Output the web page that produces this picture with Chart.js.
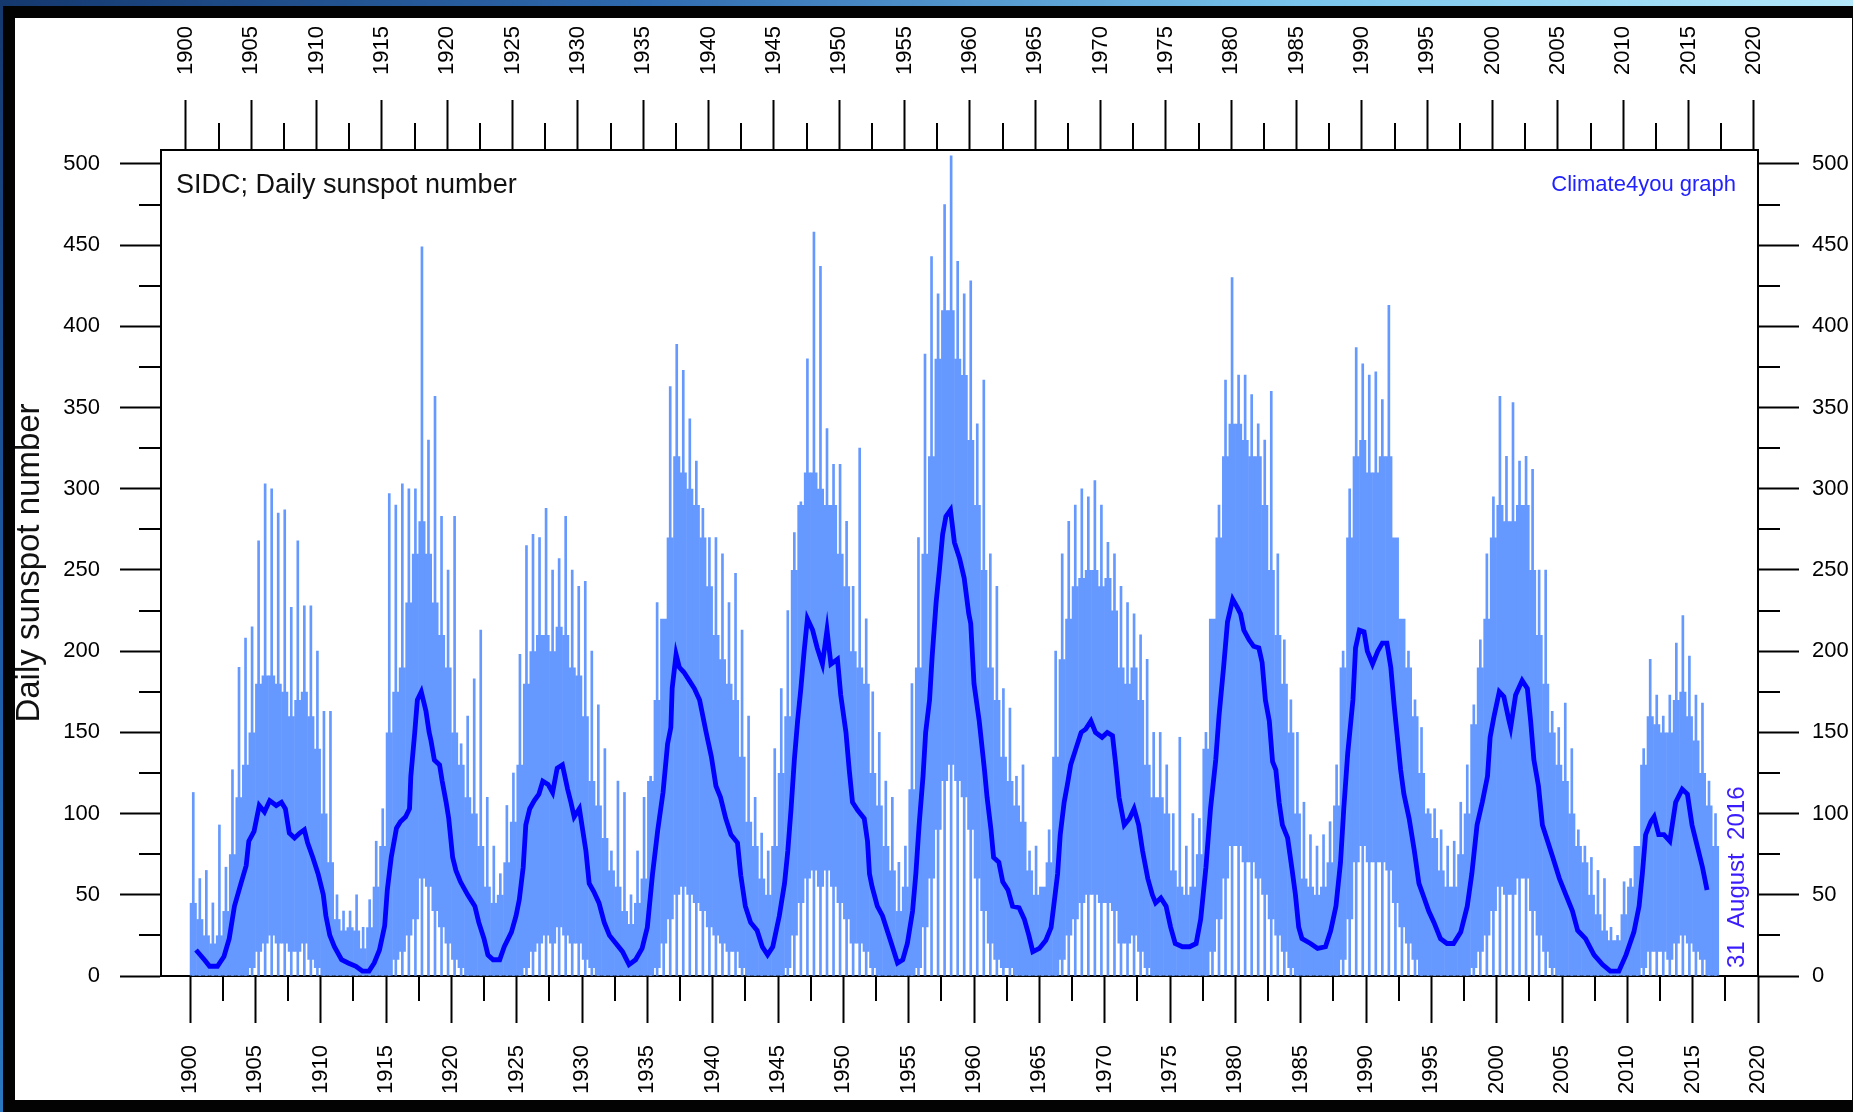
<!DOCTYPE html>
<html>
<head>
<meta charset="utf-8">
<title>SIDC; Daily sunspot number</title>
<script src="https://cdn.jsdelivr.net/npm/chart.js@4.4.1/dist/chart.umd.min.js"></script>
<style>
    html, body { margin: 0; padding: 0; width: 1853px; height: 1112px; overflow: hidden; background: #030303; }
    #topStrip { position: absolute; left: 0; top: 0; width: 1853px; height: 6px;
        background: linear-gradient(90deg, #14386e 0%, #2f6bb0 35%, #78c4ec 70%, #b4e8fa 100%); }
    #leftStrip { position: absolute; left: 0; top: 0; width: 3px; height: 1112px;
        background: linear-gradient(180deg, #14386e, #1d5da8 60%, #2a78c0); }
    #panel { position: absolute; left: 15px; top: 18px; width: 1837px; height: 1082px; background: #fff; }
    canvas { display: block; }
</style>
</head>
<body>
<div id="topStrip"></div>
<div id="leftStrip"></div>
<div id="panel"><canvas id="chart" width="1837" height="1082"></canvas></div>
<script>
// Texts
const chartTitle = 'SIDC; Daily sunspot number';
const yAxisTitle = 'Daily sunspot number';
const creditText = 'Climate4you graph';
const dateText = '31  August  2016';

// Daily values, read per half-year bin (1900.0-1900.5, 1900.5-1901.0, ... 2016.5-2017.0)
const firstBinCentre = 1900.25;
const binWidth = 0.5;

// lower edge of the dense daily band
const dailyLow = [
    0, 0, 0, 0, 0, 0, 0, 0, 0, 5,              // 1900-1904
    15, 20, 25, 20, 20, 15, 15, 20, 10, 5,     // 1905-1909
    0, 0, 0, 0, 0, 0, 0, 0, 0, 0,              // 1910-1914
    0, 10, 15, 25, 35, 60, 55, 40, 30, 20,     // 1915-1919
    10, 5, 0, 0, 0, 0, 0, 0, 0, 0,             // 1920-1924
    0, 5, 15, 20, 25, 20, 30, 25, 20, 20,      // 1925-1929
    10, 5, 0, 0, 0, 0, 0, 0, 0, 0,             // 1930-1934
    0, 5, 20, 35, 50, 55, 50, 45, 40, 30,      // 1935-1939
    25, 20, 15, 15, 5, 0, 0, 0, 0, 0,          // 1940-1944
    0, 5, 25, 45, 60, 65, 55, 65, 55, 45,      // 1945-1949
    35, 20, 20, 15, 5, 0, 0, 0, 0, 0,          // 1950-1954
    0, 5, 30, 60, 90, 120, 130, 120, 110, 90,  // 1955-1959
    60, 40, 20, 10, 5, 5, 0, 0, 0, 0,          // 1960-1964
    0, 0, 0, 10, 25, 35, 45, 50, 50, 45,       // 1965-1969
    45, 40, 20, 20, 25, 15, 5, 0, 0, 0,        // 1970-1974
    0, 0, 0, 0, 0, 0, 15, 35, 60, 80,          // 1975-1979
    80, 70, 70, 60, 50, 35, 25, 15, 5, 0,      // 1980-1984
    0, 0, 0, 0, 0, 0, 10, 35, 70, 80,          // 1985-1989
    70, 70, 70, 65, 45, 30, 20, 10, 0, 0,      // 1990-1994
    0, 0, 0, 0, 0, 0, 5, 15, 25, 40,           // 1995-1999
    55, 50, 50, 60, 60, 40, 25, 15, 5, 0,      // 2000-2004
    0, 0, 0, 0, 0, 0, 0, 0, 0, 0,              // 2005-2009
    0, 0, 5, 15, 15, 15, 10, 20, 25, 20,       // 2010-2014
    15, 10, 0, 0                               // 2015-2016
];

// upper edge of the dense daily band
const dailyHigh = [
    45, 35, 25, 20, 25, 40, 75, 110, 130, 150,         // 1900-1904
    180, 185, 185, 180, 175, 160, 170, 175, 160, 140,  // 1905-1909
    100, 70, 35, 28, 30, 28, 17, 30, 55, 80,           // 1910-1914
    150, 175, 190, 230, 260, 280, 260, 230, 210, 190,  // 1915-1919
    150, 130, 110, 100, 80, 55, 45, 50, 70, 95,        // 1920-1924
    130, 180, 200, 210, 210, 200, 215, 210, 190, 185,  // 1925-1929
    160, 120, 105, 85, 65, 55, 40, 32, 45, 60,         // 1930-1934
    120, 170, 220, 270, 320, 310, 300, 290, 270, 240,  // 1935-1939
    210, 195, 180, 170, 135, 95, 80, 60, 50, 80,       // 1940-1944
    125, 160, 250, 290, 310, 310, 300, 290, 290, 260,  // 1945-1949
    240, 200, 190, 180, 125, 105, 80, 65, 40, 55,      // 1950-1954
    115, 190, 260, 320, 380, 410, 410, 380, 370, 330,  // 1955-1959
    290, 250, 190, 170, 135, 120, 105, 95, 65, 50,     // 1960-1964
    55, 70, 135, 195, 220, 240, 245, 250, 250, 240,    // 1965-1969
    245, 225, 190, 180, 190, 170, 130, 110, 110, 100,  // 1970-1974
    65, 55, 50, 55, 75, 140, 220, 270, 320, 340,       // 1975-1979
    340, 330, 320, 320, 290, 250, 210, 180, 150, 100,  // 1980-1984
    60, 55, 50, 55, 70, 105, 190, 270, 320, 330,       // 1985-1989
    310, 310, 320, 320, 270, 220, 190, 160, 125, 100,  // 1990-1994
    85, 65, 55, 55, 75, 100, 155, 190, 220, 270,       // 1995-1999
    290, 280, 280, 290, 290, 250, 210, 180, 150, 130,  // 2000-2004
    120, 100, 80, 70, 50, 38, 28, 22, 22, 38,          // 2005-2009
    55, 80, 130, 160, 155, 150, 150, 170, 175, 160,    // 2010-2014
    145, 125, 105, 80                                  // 2015-2016
];

// highest single day in each bin
const dailyPeak = [
    113, 60, 65, 45, 93, 67, 127, 190, 208, 215,       // 1900-1904
    268, 303, 300, 285, 287, 227, 268, 228, 228, 200,  // 1905-1909
    163, 163, 50, 40, 40, 50, 30, 47, 83, 103,         // 1910-1914
    297, 290, 303, 300, 300, 449, 330, 357, 283, 250,  // 1915-1919
    283, 143, 160, 183, 213, 110, 80, 63, 105, 125,    // 1920-1924
    198, 265, 272, 270, 288, 250, 257, 283, 250, 240,  // 1925-1929
    243, 200, 167, 140, 77, 120, 113, 50, 77, 110,     // 1930-1934
    123, 230, 187, 363, 389, 373, 343, 317, 288, 270,  // 1935-1939
    270, 260, 230, 248, 213, 160, 110, 88, 77, 140,    // 1940-1944
    177, 225, 273, 292, 380, 458, 437, 337, 315, 315,  // 1945-1949
    280, 240, 325, 220, 175, 150, 120, 110, 70, 80,    // 1950-1954
    180, 270, 383, 443, 420, 475, 505, 440, 420, 428,  // 1955-1959
    340, 367, 260, 240, 177, 165, 123, 130, 77, 80,    // 1960-1964
    53, 90, 200, 260, 280, 290, 300, 295, 305, 290,    // 1965-1969
    267, 260, 240, 230, 223, 210, 195, 150, 150, 130,  // 1970-1974
    100, 147, 80, 100, 97, 150, 203, 290, 367, 430,    // 1975-1979
    370, 370, 358, 340, 330, 360, 260, 207, 170, 150,  // 1980-1984
    107, 87, 80, 87, 95, 130, 200, 300, 387, 377,      // 1985-1989
    370, 372, 355, 413, 252, 208, 200, 170, 153, 103,  // 1990-1994
    103, 90, 80, 83, 107, 130, 167, 207, 260, 295,     // 1995-1999
    357, 320, 353, 317, 320, 312, 250, 250, 163, 153,  // 2000-2004
    168, 140, 90, 80, 73, 65, 60, 30, 25, 58,          // 2005-2009
    60, 70, 140, 195, 173, 160, 173, 205, 222, 197,    // 2010-2014
    173, 168, 120, 100                                 // 2015-2016
];

// Running mean (dark blue line)
const smoothYears = [
    1900.46, 1901.1, 1901.5, 1902.1, 1902.6, 1903.0, 1903.4, 1903.9, 1904.3, 1904.5,
    1904.9, 1905.3, 1905.7, 1906.1, 1906.6, 1907.0, 1907.3, 1907.6, 1908.0, 1908.4,
    1908.75, 1909.0, 1909.4, 1909.8, 1910.2, 1910.4, 1910.7, 1911.05, 1911.6, 1912.1,
    1912.7, 1913.2, 1913.7, 1914.1, 1914.5, 1914.9, 1915.1, 1915.4, 1915.8, 1916.1,
    1916.5, 1916.8, 1916.9, 1917.2, 1917.4, 1917.7, 1918.06, 1918.3, 1918.44, 1918.7,
    1919.1, 1919.3, 1919.6, 1919.8, 1920.1, 1920.35, 1920.7, 1921.25, 1921.8, 1922.1,
    1922.5, 1922.8, 1923.2, 1923.7, 1924.05, 1924.6, 1924.95, 1925.2, 1925.5, 1925.7,
    1926.0, 1926.35, 1926.7, 1927.0, 1927.4, 1927.75, 1928.1, 1928.5, 1928.9, 1929.15,
    1929.4, 1929.8, 1930.05, 1930.3, 1930.55, 1930.9, 1931.3, 1931.7, 1932.1, 1932.6,
    1933.1, 1933.6, 1934.1, 1934.6, 1935.0, 1935.4, 1935.8, 1936.2, 1936.55, 1936.8,
    1936.9, 1937.2, 1937.45, 1937.8, 1938.2, 1938.6, 1939.0, 1939.5, 1939.9, 1940.25,
    1940.6, 1941.0, 1941.4, 1941.9, 1942.15, 1942.5, 1942.9, 1943.4, 1943.8, 1944.2,
    1944.6, 1945.1, 1945.5, 1945.75, 1946.0, 1946.25, 1946.5, 1946.75, 1947.0, 1947.25,
    1947.65, 1948.0, 1948.4, 1948.75, 1949.05, 1949.55, 1949.8, 1950.2, 1950.45, 1950.7,
    1951.1, 1951.6, 1951.85, 1952.0, 1952.2, 1952.6, 1953.0, 1953.4, 1953.8, 1954.15,
    1954.55, 1954.9, 1955.3, 1955.55, 1955.8, 1956.1, 1956.3, 1956.6, 1956.8, 1957.1,
    1957.35, 1957.6, 1957.85, 1958.2, 1958.5, 1958.9, 1959.25, 1959.6, 1959.75, 1960.0,
    1960.4, 1960.8, 1961.0, 1961.3, 1961.5, 1961.9, 1962.2, 1962.6, 1962.95, 1963.45,
    1963.85, 1964.2, 1964.5, 1965.0, 1965.5, 1965.9, 1966.1, 1966.4, 1966.6, 1966.9,
    1967.15, 1967.4, 1967.8, 1968.2, 1968.55, 1968.95, 1969.3, 1969.8, 1970.2, 1970.6,
    1970.85, 1971.1, 1971.5, 1971.9, 1972.25, 1972.6, 1972.9, 1973.3, 1973.65, 1973.9,
    1974.3, 1974.7, 1975.05, 1975.4, 1975.95, 1976.5, 1977.0, 1977.35, 1977.75, 1978.1,
    1978.5, 1978.75, 1979.1, 1979.4, 1979.8, 1980.15, 1980.4, 1980.65, 1981.05, 1981.4,
    1981.8, 1982.05, 1982.3, 1982.6, 1982.85, 1983.1, 1983.35, 1983.6, 1984.0, 1984.35,
    1984.6, 1984.85, 1985.1, 1985.75, 1986.3, 1986.9, 1987.3, 1987.7, 1988.05, 1988.3,
    1988.6, 1989.0, 1989.2, 1989.5, 1989.85, 1990.1, 1990.5, 1990.9, 1991.25, 1991.6,
    1991.9, 1992.15, 1992.4, 1992.65, 1992.9, 1993.3, 1993.7, 1994.05, 1994.45, 1994.8,
    1995.2, 1995.7, 1996.2, 1996.7, 1997.25, 1997.75, 1998.1, 1998.5, 1998.9, 1999.3,
    1999.5, 1999.8, 2000.2, 2000.55, 2000.95, 2001.07, 2001.45, 2001.95, 2002.35, 2002.6,
    2002.85, 2003.2, 2003.5, 2003.9, 2004.3, 2004.8, 2005.3, 2005.8, 2006.2, 2006.8,
    2007.45, 2008.1, 2008.7, 2009.35, 2009.9, 2010.5, 2010.9, 2011.15, 2011.4, 2011.8,
    2012.05, 2012.4, 2012.8, 2013.25, 2013.7, 2014.2, 2014.6, 2014.95, 2015.35, 2015.75,
    2016.1
];
const smoothValues = [
    16, 10, 6, 6, 12, 23, 43, 57, 68, 83,
    89, 105, 101, 108, 105, 107, 103, 88, 85, 88,
    90, 82, 73, 63, 50, 37, 25, 18, 10, 8,
    6, 3, 3, 8, 16, 31, 53, 73, 91, 95,
    98, 103, 123, 150, 170, 175, 163, 150, 145, 133,
    130, 120, 107, 97, 73, 65, 58, 50, 43, 33,
    23, 13, 10, 10, 18, 27, 37, 47, 67, 93,
    103, 108, 112, 120, 118, 113, 128, 130, 115, 107,
    98, 103, 90, 77, 57, 52, 45, 33, 25, 20,
    15, 7, 10, 17, 30, 63, 90, 113, 143, 153,
    177, 198, 190, 187, 182, 177, 170, 150, 135, 117,
    110, 97, 87, 82, 62, 43, 33, 28, 18, 13,
    18, 37, 57, 77, 103, 133, 157, 177, 200, 220,
    213, 202, 192, 213, 192, 195, 173, 150, 127, 107,
    102, 97, 83, 63, 55, 43, 37, 27, 17, 8,
    10, 20, 40, 63, 93, 123, 150, 170, 197, 230,
    250, 272, 283, 287, 267, 257, 245, 223, 217, 180,
    157, 127, 110, 90, 73, 70, 58, 53, 43, 42,
    35, 25, 15, 17, 22, 30, 43, 63, 87, 107,
    118, 130, 140, 150, 152, 157, 150, 147, 150, 148,
    130, 110, 93, 97, 103, 93, 77, 60, 50, 45,
    48, 43, 30, 20, 18, 18, 20, 35, 67, 103,
    133, 160, 190, 218, 232, 227, 223, 213, 207, 203,
    202, 193, 170, 157, 132, 127, 107, 93, 85, 65,
    50, 30, 23, 20, 17, 18, 28, 43, 70, 103,
    137, 170, 202, 213, 212, 200, 192, 200, 205, 205,
    190, 167, 147, 127, 112, 97, 77, 57, 48, 40,
    33, 23, 20, 20, 27, 43, 63, 93, 107, 123,
    147, 160, 175, 172, 157, 153, 173, 182, 177, 157,
    133, 117, 93, 83, 73, 60, 50, 40, 28, 23,
    13, 7, 3, 3, 13, 27, 43, 63, 87, 95,
    98, 87, 87, 83, 107, 115, 112, 93, 80, 67,
    53
];

// Axis ranges
const yearMin = 1897.78;
const yearMax = 2020;
const topYearMin = 1898.09;
const topYearMax = 2020.31;
const valueMin = 0;
const valueMax = 508.6;

const FONT = "'Liberation Sans', Arial, Helvetica, sans-serif";
const lightBlue = '#6699ff';
const darkBlue = '#0000ff';

Chart.defaults.font.family = FONT;
Chart.defaults.color = '#000';

const binCentres = dailyLow.map((_, i) => firstBinCentre + i * binWidth);

// Minor tick marks (every 25 units / 2.5 years)
const minorTicks = {
    id: 'minorTicks',
    afterDraw(chart) {
        const ctx = chart.ctx;
        const a = chart.chartArea;
        const sy = chart.scales.y;
        const sx = chart.scales.x;
        const sx2 = chart.scales.x2;
        ctx.save();
        ctx.strokeStyle = '#000';
        ctx.lineWidth = 2;
        ctx.beginPath();
        for (let v = 25; v < valueMax; v += 50) {
            const p = Math.round(sy.getPixelForValue(v));
            ctx.moveTo(a.left - 22, p); ctx.lineTo(a.left, p);
            ctx.moveTo(a.right, p); ctx.lineTo(a.right + 22, p);
        }
        for (let yr = 1902.5; yr < yearMax; yr += 5) {
            const p = Math.round(sx.getPixelForValue(yr));
            ctx.moveTo(p, a.bottom); ctx.lineTo(p, a.bottom + 25);
        }
        for (let yr = 1902.5; yr < topYearMax; yr += 5) {
            const p = Math.round(sx2.getPixelForValue(yr));
            ctx.moveTo(p, a.top); ctx.lineTo(p, a.top - 27);
        }
        ctx.stroke();
        ctx.restore();
    }
};

// Title, credit and date inside the plot
const annotations = {
    id: 'annotations',
    afterDraw(chart) {
        const ctx = chart.ctx;
        const a = chart.chartArea;
        ctx.save();
        ctx.textBaseline = 'alphabetic';
        ctx.fillStyle = '#111';
        ctx.font = '27px ' + FONT;
        ctx.textAlign = 'left';
        ctx.fillText(chartTitle, a.left + 15, a.top + 43);

        ctx.fillStyle = '#2222ff';
        ctx.font = '22px ' + FONT;
        ctx.textAlign = 'right';
        ctx.fillText(creditText, a.right - 22, a.top + 41);

        ctx.translate(a.right - 21, a.bottom - 8);
        ctx.rotate(-Math.PI / 2);
        ctx.font = '24px ' + FONT;
        ctx.textAlign = 'left';
        ctx.textBaseline = 'middle';
        ctx.fillStyle = '#3a1cff';
        ctx.fillText(dateText, 0, 0);
        ctx.restore();
    }
};

function axisTicks(stepSize, padding) {
    return {
        stepSize: stepSize,
        padding: padding,
        autoSkip: false,
        includeBounds: false,
        color: '#000',
        font: { size: 22 },
        callback: v => String(v)
    };
}

function axisGrid(tickLength) {
    return {
        drawOnChartArea: false,
        drawTicks: true,
        tickLength: tickLength,
        tickWidth: 2,
        tickColor: '#000',
        offset: false
    };
}

const border = { display: true, color: '#000', width: 2 };

const ctx = document.getElementById('chart').getContext('2d');
new Chart(ctx, {
    type: 'bar',
    data: {
        datasets: [
            {
                type: 'line',
                label: 'Running mean',
                data: smoothYears.map((x, i) => ({ x: x, y: smoothValues[i] })),
                borderColor: darkBlue,
                borderWidth: 4.8,
                pointRadius: 0,
                tension: 0,
                clip: false,
                order: 1
            },
            {
                label: 'Daily band',
                data: binCentres.map((x, i) => ({ x: x, y: [dailyLow[i], dailyHigh[i]] })),
                backgroundColor: lightBlue,
                borderWidth: 0,
                barPercentage: 1.08,
                categoryPercentage: 1,
                grouped: false,
                order: 2
            },
            {
                label: 'Daily peaks',
                data: binCentres.map((x, i) => ({ x: x, y: [0, dailyPeak[i]] })),
                backgroundColor: lightBlue,
                borderWidth: 0,
                barThickness: 2,
                grouped: false,
                order: 3
            }
        ]
    },
    options: {
        responsive: false,
        devicePixelRatio: 1,
        animation: false,
        events: [],
        layout: { padding: 0 },
        plugins: {
            legend: { display: false },
            tooltip: { enabled: false },
            title: { display: false }
        },
        scales: {
            x: {
                type: 'linear',
                position: 'bottom',
                min: yearMin,
                max: yearMax,
                offset: false,
                z: 1,
                ticks: Object.assign(axisTicks(5, 22), { minRotation: 90, maxRotation: 90 }),
                grid: axisGrid(47),
                border: border,
                afterFit: s => { s.height = 124; }
            },
            x2: {
                type: 'linear',
                position: 'top',
                min: topYearMin,
                max: topYearMax,
                offset: false,
                z: 1,
                // rotated top labels are drawn one line-height to the left; move them back over the ticks
                ticks: Object.assign(axisTicks(5, 25), { minRotation: 90, maxRotation: 90, labelOffset: 26.4 }),
                grid: axisGrid(50),
                border: border,
                afterFit: s => { s.height = 132; }
            },
            y: {
                type: 'linear',
                position: 'left',
                min: valueMin,
                max: valueMax,
                z: 1,
                ticks: axisTicks(50, 20),
                grid: axisGrid(41),
                border: border,
                title: {
                    display: true,
                    text: yAxisTitle,
                    color: '#111',
                    font: { size: 33, lineHeight: 1 },
                    padding: { top: -2, bottom: 0 }
                },
                afterFit: s => { s.width = 146; }
            },
            y2: {
                type: 'linear',
                position: 'right',
                min: valueMin,
                max: valueMax,
                z: 1,
                ticks: axisTicks(50, 13),
                grid: axisGrid(41),
                border: border,
                afterFit: s => { s.width = 94; }
            }
        }
    },
    plugins: [minorTicks, annotations]
});
</script>
</body>
</html>
